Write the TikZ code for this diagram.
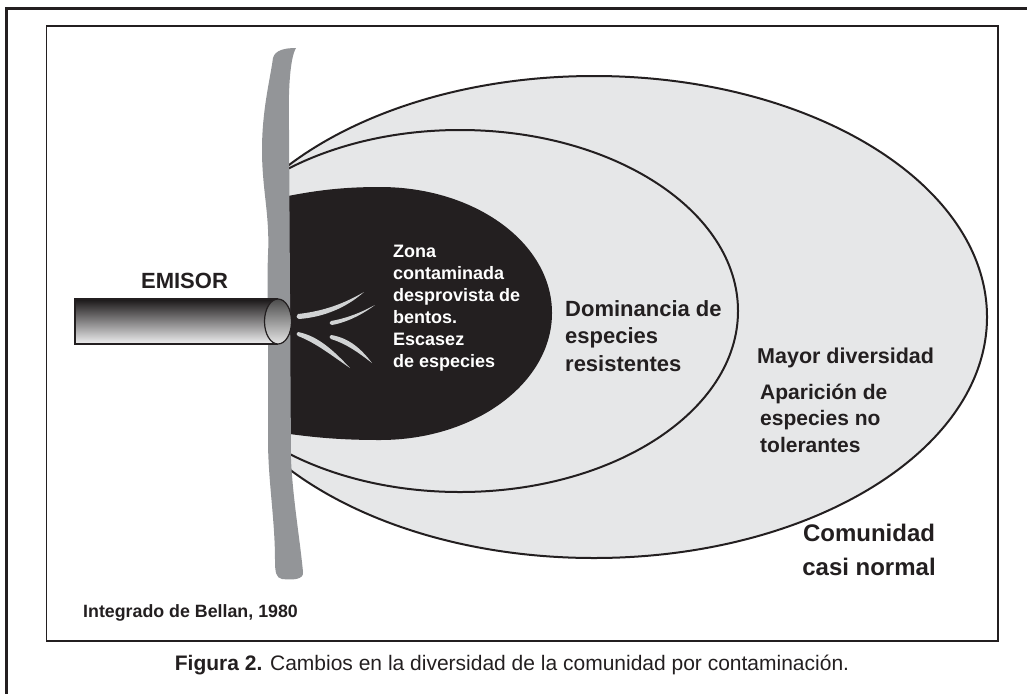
\documentclass[tikz,border=0pt]{standalone}
\usepackage{fontspec}
\setmainfont{Liberation Sans}
\definecolor{ink}{HTML}{231F20}
\definecolor{zonefill}{HTML}{E6E7E8}
\definecolor{wallgray}{HTML}{939598}
\definecolor{streak}{HTML}{D1D3D4}
\definecolor{pipedark}{HTML}{1A1718}
\definecolor{pipelight}{HTML}{F0F0F1}
\begin{document}
\begin{tikzpicture}[x=1pt,y=-1pt,
  zoneline/.style={fill=zonefill, draw=ink, line width=2pt},
  lbl/.style={inner sep=0pt, align=left, text=ink, font=\bfseries},
  jetstreak/.style={fill=streak}]
\useasboundingbox (0,0) rectangle (1027,694);

% page frame and figure frame
\draw[line width=2.6pt, ink] (1027,8.7) -- (6.2,8.7) -- (6.2,694);
\draw[line width=1.6pt, ink] (46.5,26) rectangle (998,641);

% pollution zones, cut off behind the shore wall
\begin{scope}
  \clip (282,0) rectangle (1027,694);
  \path[zoneline] (594,317) ellipse [x radius=393pt, y radius=241pt];
  \path[zoneline] (460,311) ellipse [x radius=278pt, y radius=181pt];
  \fill[ink] (250,204) .. controls (300,193) and (330,187) .. (380,187)
    .. controls (475,187) and (552,243) .. (552,313)
    .. controls (552,383) and (475,440) .. (380,440)
    .. controls (330,440) and (300,436) .. (250,428) -- cycle;
\end{scope}

% shore wall
\fill[wallgray] (296,48) .. controls (290,58) and (288,90) .. (289,130)
  -- (291,460) .. controls (293,500) and (300,540) .. (303,572)
  .. controls (304,580) and (292,580) .. (282,579)
  .. controls (276,578) and (275,572) .. (275,560)
  .. controls (275,520) and (268,480) .. (268,440)
  -- (268,330) .. controls (268,300) and (267,280) .. (268,255)
  .. controls (270,215) and (262,190) .. (262,150)
  .. controls (262,110) and (270,80) .. (273,58)
  .. controls (275,50) and (285,48) .. (296,48) -- cycle;

% discharge jets
\fill[jetstreak] (298,314) .. controls (325,311) and (345,303) .. (364,292)
  .. controls (347,307) and (325,317) .. (299,319)
  .. controls (296,318) and (296,315) .. (298,314) -- cycle;
\fill[jetstreak] (331,321) .. controls (348,318) and (362,312) .. (375,305)
  .. controls (363,314) and (348,322) .. (332,325)
  .. controls (329,324) and (329,322) .. (331,321) -- cycle;
\fill[jetstreak] (298,332) .. controls (318,336) and (333,350) .. (350,368)
  .. controls (331,355) and (316,343) .. (298,336)
  .. controls (296,335) and (296,333) .. (298,332) -- cycle;
\fill[jetstreak] (331,335) .. controls (350,338) and (362,350) .. (372,363)
  .. controls (359,353) and (347,344) .. (331,339)
  .. controls (329,338) and (329,336) .. (331,335) -- cycle;

% outfall pipe
\shade[top color=pipedark, bottom color=pipelight] (75,299) rectangle (278,344);
\draw[ink, line width=1.2pt] (278,299) -- (75,299) -- (75,344) -- (278,344);
\shadedraw[top color=black!70, bottom color=black!10, draw=ink, line width=1.2pt]
  (278,321.5) ellipse [x radius=13.5pt, y radius=22.5pt];

% labels
\node[lbl, anchor=base, font=\bfseries\fontsize{22}{26}\selectfont] (emisor) at (184.5,288) {EMISOR};
\node[lbl, anchor=north west, text=white, font=\bfseries\fontsize{18}{22}\selectfont] (zona) at (393,245)
  {Zona\\contaminada\\desprovista de\\bentos.\\Escasez\\de especies};
\node[lbl, anchor=north west, font=\bfseries\fontsize{22}{27.5}\selectfont] (dominancia) at (565,300)
  {Dominancia de\\especies\\resistentes};
\node[lbl, anchor=north west, font=\bfseries\fontsize{21.5}{26}\selectfont] (mayor) at (757,348)
  {Mayor diversidad};
\node[lbl, anchor=north west, font=\bfseries\fontsize{21}{26.5}\selectfont] (aparicion) at (760,383.5)
  {Aparición de\\especies no\\tolerantes};
\node[lbl, anchor=north, align=center, font=\bfseries\fontsize{24}{33.5}\selectfont] (comunidad) at (869,524)
  {Comunidad\\casi normal};
\node[lbl, anchor=base west, font=\bfseries\fontsize{17.8}{21}\selectfont] (fuente) at (83,617)
  {Integrado de Bellan, 1980};
\node[lbl, anchor=base, font=\fontsize{21}{25}\selectfont] (caption) at (512,670)
  {\textbf{Figura 2.} Cambios en la diversidad de la comunidad por contaminación.};
\end{tikzpicture}
\end{document}
